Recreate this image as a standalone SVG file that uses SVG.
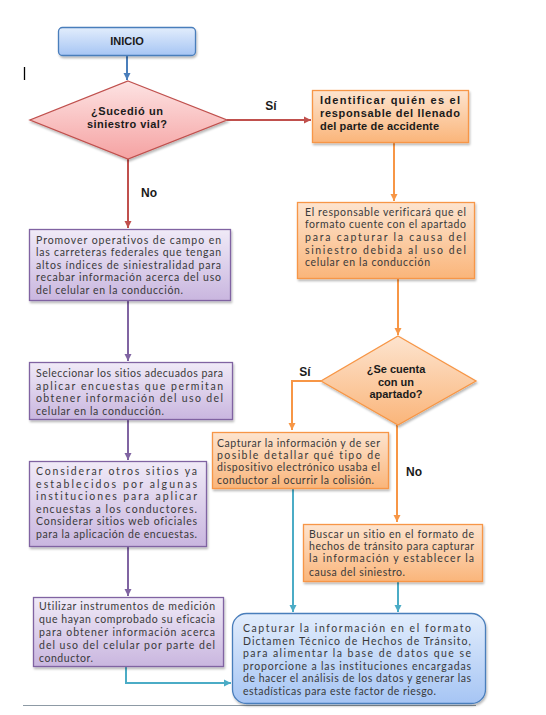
<svg xmlns="http://www.w3.org/2000/svg" width="546" height="715" viewBox="0 0 546 715">
<defs>
<linearGradient id="gBlue" x1="0" y1="0" x2="0" y2="1"><stop offset="0" stop-color="#e2edfc"/><stop offset="1" stop-color="#a6c5f4"/></linearGradient>
<linearGradient id="gRed" x1="0" y1="0" x2="0" y2="1"><stop offset="0" stop-color="#fde3e3"/><stop offset="1" stop-color="#f5a2a2"/></linearGradient>
<linearGradient id="gOrange" x1="0" y1="0" x2="0" y2="1"><stop offset="0" stop-color="#fde4cf"/><stop offset="1" stop-color="#fab57a"/></linearGradient>
<linearGradient id="gPurple" x1="0" y1="0" x2="0" y2="1"><stop offset="0" stop-color="#f0eaf7"/><stop offset="1" stop-color="#c9b6df"/></linearGradient>
<filter id="sh" x="-10%" y="-10%" width="125%" height="130%"><feDropShadow dx="1" dy="2" stdDeviation="1.3" flood-color="#000" flood-opacity="0.28"/></filter>
<marker id="aBlue" markerUnits="userSpaceOnUse" markerWidth="8" markerHeight="8" refX="7" refY="4" orient="auto"><path d="M0,0.5 L7,4 L0,7.5 z" fill="#4a7ebb"/></marker>
<marker id="aRed" markerUnits="userSpaceOnUse" markerWidth="8" markerHeight="8" refX="7" refY="4" orient="auto"><path d="M0,0.5 L7,4 L0,7.5 z" fill="#c0504d"/></marker>
<marker id="aOrange" markerUnits="userSpaceOnUse" markerWidth="8" markerHeight="8" refX="7" refY="4" orient="auto"><path d="M0,0.5 L7,4 L0,7.5 z" fill="#f79646"/></marker>
<marker id="aPurple" markerUnits="userSpaceOnUse" markerWidth="8" markerHeight="8" refX="7" refY="4" orient="auto"><path d="M0,0.5 L7,4 L0,7.5 z" fill="#8064a2"/></marker>
<marker id="aTeal" markerUnits="userSpaceOnUse" markerWidth="8" markerHeight="8" refX="7" refY="4" orient="auto"><path d="M0,0.5 L7,4 L0,7.5 z" fill="#4bacc6"/></marker>
</defs>
<style>
text{font-variant-ligatures:none;font-feature-settings:"liga" 0}
.t{font-family:Lato,"Open Sans",sans-serif;font-size:10.5px;fill:#3a3a3a}
.b{font-family:"Liberation Sans",Arial,sans-serif;font-size:11px;font-weight:bold;fill:#1a1a1a}
.lbl{font-family:"Liberation Sans",Arial,sans-serif;font-size:12px;font-weight:bold;fill:#1a1a1a}
.c{fill:none;stroke-width:2}
.blue{fill:url(#gBlue);stroke:#4a7ebb;stroke-width:1.3}
.red{fill:url(#gRed);stroke:#c0504d;stroke-width:1.3}
.org{fill:url(#gOrange);stroke:#f79646;stroke-width:1.3}
.pur{fill:url(#gPurple);stroke:#8064a2;stroke-width:1.3}
</style>
<rect width="546" height="715" fill="#ffffff"/>
<line x1="24.5" y1="67" x2="24.5" y2="80" stroke="#000" stroke-width="1.3"/>
<line x1="23" y1="705.5" x2="476" y2="705.5" stroke="#8d9aa5" stroke-width="1.2"/>

<g id="connectors">
<path class="c" d="M127,55 V80" stroke="#4a7ebb" marker-end="url(#aBlue)"/>
<path class="c" d="M227,120 H311" stroke="#c0504d" marker-end="url(#aRed)"/>
<path class="c" d="M128,159 V228" stroke="#c0504d" marker-end="url(#aRed)"/>
<path class="c" d="M394,142 V201" stroke="#f79646" marker-end="url(#aOrange)"/>
<path class="c" d="M398,279 V335" stroke="#f79646" marker-end="url(#aOrange)"/>
<path class="c" d="M321,381 H292 V430" stroke="#f79646" marker-end="url(#aOrange)"/>
<path class="c" d="M397,425 V522" stroke="#f79646" marker-end="url(#aOrange)"/>
<path class="c" d="M128,301 V361" stroke="#8064a2" marker-end="url(#aPurple)"/>
<path class="c" d="M128,420 V460" stroke="#8064a2" marker-end="url(#aPurple)"/>
<path class="c" d="M128,547 V596" stroke="#8064a2" marker-end="url(#aPurple)"/>
<path class="c" d="M293,489 V612" stroke="#4bacc6" marker-end="url(#aTeal)"/>
<path class="c" d="M398,582 V612" stroke="#4bacc6" marker-end="url(#aTeal)"/>
<path class="c" d="M126,667 V683 H231" stroke="#4bacc6" marker-end="url(#aTeal)"/>
<text class="lbl" x="271" y="110" text-anchor="middle">Sí</text>
<text class="lbl" x="149" y="197" text-anchor="middle">No</text>
<text class="lbl" x="305" y="376" text-anchor="middle">Sí</text>
<rect x="398.5" y="459" width="27" height="23" fill="#ffffff"/>
<text class="lbl" x="414" y="476" text-anchor="middle">No</text>
</g>

<g id="inicio">
<rect class="blue" x="58.5" y="27.5" width="137" height="28" rx="4" filter="url(#sh)"/>
<text class="b" x="127" y="45" text-anchor="middle">INICIO</text>
</g>

<g id="decision1">
<polygon class="red" points="128,81 227,120 128,159 30,120" filter="url(#sh)"/>
<text class="b" x="127" y="115" text-anchor="middle" textLength="72" lengthAdjust="spacing">¿Sucedió un</text>
<text class="b" x="127" y="127.5" text-anchor="middle" textLength="80" lengthAdjust="spacing">siniestro vial?</text>
</g>

<g id="identificar">
<rect class="org" x="312.5" y="90.5" width="156" height="52" filter="url(#sh)"/>
<text class="b" x="320" y="104" textLength="140" lengthAdjust="spacing">Identificar quién es el</text>
<text class="b" x="320" y="117" textLength="140" lengthAdjust="spacing">responsable del llenado</text>
<text class="b" x="320" y="130" textLength="119" lengthAdjust="spacing">del parte de accidente</text>
</g>

<g id="verificar">
<rect class="org" x="297.5" y="202.5" width="177" height="76" filter="url(#sh)"/>
<text class="t" x="305" y="216" textLength="161" lengthAdjust="spacing">El responsable verificará que el</text>
<text class="t" x="305" y="228" textLength="161" lengthAdjust="spacing">formato cuente con el apartado</text>
<text class="t" x="305" y="241" textLength="161" lengthAdjust="spacing">para capturar la causa del</text>
<text class="t" x="305" y="254" textLength="161" lengthAdjust="spacing">siniestro debida al uso del</text>
<text class="t" x="305" y="266" textLength="125" lengthAdjust="spacing">celular en la conducción</text>
</g>

<g id="decision2">
<polygon class="org" points="398,336 476,381 398,425 321,381" filter="url(#sh)"/>
<text class="b" x="396" y="373" text-anchor="middle">¿Se cuenta</text>
<text class="b" x="396" y="385.5" text-anchor="middle">con un</text>
<text class="b" x="396" y="398" text-anchor="middle">apartado?</text>
</g>

<g id="capturar-dispositivo">
<rect class="org" x="212.5" y="432.5" width="176" height="56" filter="url(#sh)"/>
<text class="t" x="217" y="447" textLength="163" lengthAdjust="spacing">Capturar la información y de ser</text>
<text class="t" x="217" y="459" textLength="163" lengthAdjust="spacing">posible detallar qué tipo de</text>
<text class="t" x="217" y="471" textLength="163" lengthAdjust="spacing">dispositivo electrónico usaba el</text>
<text class="t" x="217" y="484" textLength="157" lengthAdjust="spacing">conductor al ocurrir la colisión.</text>
</g>

<g id="buscar-sitio">
<rect class="org" x="303.5" y="524.5" width="179" height="57" filter="url(#sh)"/>
<text class="t" x="309" y="538" textLength="165" lengthAdjust="spacing">Buscar un sitio en el formato de</text>
<text class="t" x="309" y="550" textLength="165" lengthAdjust="spacing">hechos de tránsito para capturar</text>
<text class="t" x="309" y="562" textLength="165" lengthAdjust="spacing">la información y establecer la</text>
<text class="t" x="309" y="576" textLength="96" lengthAdjust="spacing">causa del siniestro.</text>
</g>

<g id="promover">
<rect class="pur" x="29.5" y="229.5" width="201" height="71" filter="url(#sh)"/>
<text class="t" x="36" y="244" textLength="185" lengthAdjust="spacing">Promover operativos de campo en</text>
<text class="t" x="36" y="256" textLength="185" lengthAdjust="spacing">las carreteras federales que tengan</text>
<text class="t" x="36" y="268.5" textLength="185" lengthAdjust="spacing">altos índices de siniestralidad para</text>
<text class="t" x="36" y="281" textLength="185" lengthAdjust="spacing">recabar información acerca del uso</text>
<text class="t" x="36" y="293.5" textLength="147" lengthAdjust="spacing">del celular en la conducción.</text>
</g>

<g id="seleccionar">
<rect class="pur" x="29.5" y="362.5" width="203" height="57" filter="url(#sh)"/>
<text class="t" x="36" y="377" textLength="187" lengthAdjust="spacing">Seleccionar los sitios adecuados para</text>
<text class="t" x="36" y="389.5" textLength="187" lengthAdjust="spacing">aplicar encuestas que permitan</text>
<text class="t" x="36" y="402" textLength="187" lengthAdjust="spacing">obtener información del uso del</text>
<text class="t" x="36" y="414.5" textLength="128" lengthAdjust="spacing">celular en la conducción.</text>
</g>

<g id="considerar">
<rect class="pur" x="29.5" y="461.5" width="177" height="85" filter="url(#sh)"/>
<text class="t" x="36" y="475" textLength="161" lengthAdjust="spacing">Considerar otros sitios ya</text>
<text class="t" x="36" y="487.5" textLength="161" lengthAdjust="spacing">establecidos por algunas</text>
<text class="t" x="36" y="500" textLength="161" lengthAdjust="spacing">instituciones para aplicar</text>
<text class="t" x="36" y="512.5" textLength="161" lengthAdjust="spacing">encuestas a los conductores.</text>
<text class="t" x="36" y="525" textLength="161" lengthAdjust="spacing">Considerar sitios web oficiales</text>
<text class="t" x="36" y="537.5" textLength="161" lengthAdjust="spacing">para la aplicación de encuestas.</text>
</g>

<g id="utilizar">
<rect class="pur" x="33.5" y="597.5" width="190" height="69" filter="url(#sh)"/>
<text class="t" x="39" y="610" textLength="176" lengthAdjust="spacing">Utilizar instrumentos de medición</text>
<text class="t" x="39" y="623" textLength="176" lengthAdjust="spacing">que hayan comprobado su eficacia</text>
<text class="t" x="39" y="636" textLength="176" lengthAdjust="spacing">para obtener información acerca</text>
<text class="t" x="39" y="649" textLength="176" lengthAdjust="spacing">del uso del celular por parte del</text>
<text class="t" x="39" y="662" textLength="54" lengthAdjust="spacing">conductor.</text>
</g>

<g id="dictamen">
<rect class="blue" x="232.5" y="613.5" width="253" height="90" rx="14" filter="url(#sh)"/>
<text class="t" x="243" y="632" textLength="228" lengthAdjust="spacing">Capturar la información en el formato</text>
<text class="t" x="243" y="644.5" textLength="228" lengthAdjust="spacing">Dictamen Técnico de Hechos de Tránsito,</text>
<text class="t" x="243" y="657" textLength="228" lengthAdjust="spacing">para alimentar la base de datos que se</text>
<text class="t" x="243" y="669.5" textLength="228" lengthAdjust="spacing">proporcione a las instituciones encargadas</text>
<text class="t" x="243" y="682" textLength="228" lengthAdjust="spacing">de hacer el análisis de los datos y generar las</text>
<text class="t" x="243" y="694.5" textLength="193" lengthAdjust="spacing">estadísticas para este factor de riesgo.</text>
</g>
</svg>
